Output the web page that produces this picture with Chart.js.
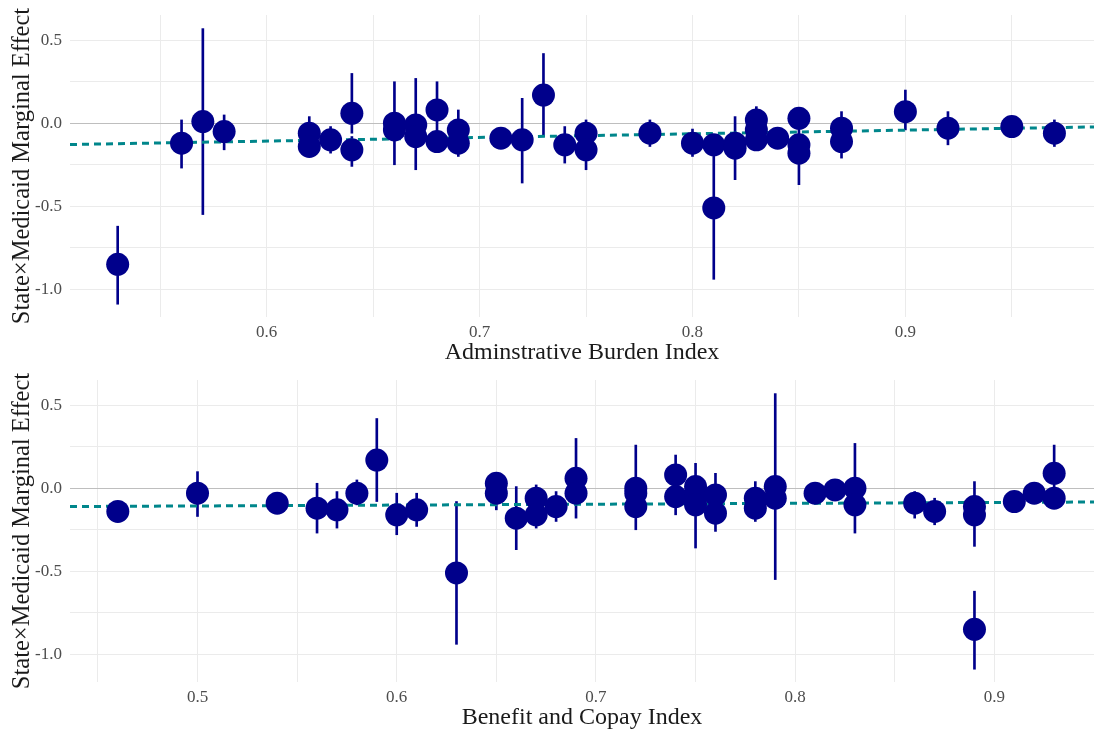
<!DOCTYPE html>
<html>
<head>
<meta charset="utf-8">
<script src="https://cdn.jsdelivr.net/npm/chart.js@4.4.1/dist/chart.umd.min.js"></script>
<style>
  html, body { margin: 0; padding: 0; background: #ffffff; }
  canvas { display: block; }
</style>
</head>
<body>
<canvas id="top" width="1094" height="365"></canvas>
<canvas id="bottom" width="1094" height="364"></canvas>
<script>
// ---------- Panel 1: Administrative Burden Index ----------
const burdenX      = [0.53, 0.56, 0.57, 0.58, 0.62, 0.62, 0.63, 0.64, 0.64, 0.66, 0.66, 0.67, 0.67, 0.68, 0.68, 0.69, 0.69, 0.71, 0.72, 0.73, 0.74, 0.75, 0.75, 0.78, 0.80, 0.81, 0.81, 0.82, 0.82, 0.83, 0.83, 0.83, 0.84, 0.85, 0.85, 0.85, 0.87, 0.87, 0.90, 0.92, 0.95, 0.97];
const burdenEffect = [-0.85, -0.12, 0.01, -0.05, -0.06, -0.14, -0.10, 0.06, -0.16, 0.00, -0.04, -0.01, -0.08, 0.08, -0.11, -0.04, -0.12, -0.09, -0.10, 0.17, -0.13, -0.06, -0.16, -0.06, -0.12, -0.13, -0.51, -0.12, -0.15, 0.02, -0.04, -0.10, -0.09, 0.03, -0.13, -0.18, -0.03, -0.11, 0.07, -0.03, -0.02, -0.06];
const burdenLow    = [-1.09, -0.27, -0.55, -0.16, -0.10, -0.18, -0.18, -0.06, -0.26, -0.25, -0.08, -0.28, -0.12, -0.05, -0.15, -0.20, -0.16, -0.12, -0.36, -0.08, -0.24, -0.10, -0.28, -0.14, -0.20, -0.17, -0.94, -0.16, -0.34, -0.02, -0.08, -0.14, -0.12, -0.01, -0.17, -0.37, -0.08, -0.21, -0.04, -0.13, -0.05, -0.14];
const burdenHigh   = [-0.62, 0.02, 0.57, 0.05, 0.04, -0.10, -0.02, 0.30, -0.08, 0.25, 0.00, 0.27, -0.04, 0.25, -0.07, 0.08, -0.08, -0.06, 0.15, 0.42, -0.02, 0.02, -0.10, 0.02, -0.035, -0.09, -0.08, -0.08, 0.04, 0.10, 0.00, -0.06, -0.06, 0.07, -0.09, 0.01, 0.07, -0.07, 0.20, 0.07, 0.01, 0.02];
const burdenFitX   = [0.5076, 0.9886];
const burdenFitY   = [-0.128, -0.022];
const burdenRange  = [0.5076, 0.9886];

// ---------- Panel 2: Benefit and Copay Index ----------
const copayX      = [0.46, 0.50, 0.54, 0.56, 0.57, 0.58, 0.59, 0.60, 0.61, 0.63, 0.65, 0.65, 0.66, 0.67, 0.67, 0.68, 0.69, 0.69, 0.72, 0.72, 0.72, 0.74, 0.74, 0.75, 0.75, 0.75, 0.76, 0.76, 0.78, 0.78, 0.79, 0.79, 0.81, 0.82, 0.83, 0.83, 0.86, 0.87, 0.89, 0.89, 0.89, 0.91, 0.92, 0.93, 0.93];
const copayEffect = [-0.14, -0.03, -0.09, -0.12, -0.13, -0.03, 0.17, -0.16, -0.13, -0.51, 0.03, -0.03, -0.18, -0.06, -0.16, -0.11, 0.06, -0.03, 0.00, -0.03, -0.11, 0.08, -0.05, 0.01, -0.04, -0.10, -0.04, -0.15, -0.06, -0.12, 0.01, -0.06, -0.03, -0.01, 0.00, -0.10, -0.09, -0.14, -0.11, -0.16, -0.85, -0.08, -0.03, 0.09, -0.06];
const copayLow    = [-0.17, -0.17, -0.12, -0.27, -0.24, -0.10, -0.08, -0.28, -0.23, -0.94, -0.01, -0.13, -0.37, -0.10, -0.24, -0.20, -0.06, -0.18, -0.25, -0.07, -0.15, -0.04, -0.16, -0.03, -0.08, -0.36, -0.08, -0.26, -0.10, -0.20, -0.55, -0.10, -0.06, -0.04, -0.27, -0.14, -0.18, -0.22, -0.15, -0.35, -1.09, -0.11, -0.06, -0.02, -0.10];
const copayHigh   = [-0.11, 0.10, -0.06, 0.03, -0.02, 0.05, 0.42, -0.03, -0.03, -0.08, 0.07, 0.02, 0.01, 0.02, -0.10, -0.02, 0.30, 0.01, 0.26, 0.01, -0.07, 0.20, 0.05, 0.05, 0.00, 0.15, 0.09, -0.10, 0.04, -0.08, 0.57, -0.02, 0.00, 0.02, 0.27, -0.06, -0.02, -0.06, -0.07, 0.04, -0.62, -0.05, 0.00, 0.26, -0.02];
const copayFitX   = [0.436, 0.950];
const copayFitY   = [-0.110, -0.083];
const copayRange  = [0.436, 0.950];

// ---------- Shared axis settings ----------
const effectRange   = [-1.167, 0.652];
const effectStep    = 0.25;
const indexStep     = 0.05;
const yTitle        = 'State\u00D7Medicaid Marginal Effect';
const xTitles       = ['Adminstrative Burden Index', 'Benefit and Copay Index'];

const SERIF = '"Liberation Serif", "DejaVu Serif", "Times New Roman", serif';
const NAVY = '#00008B';
const TEAL = '#00868B';

function isMultiple(v, step) {
  const r = v / step;
  return Math.abs(r - Math.round(r)) < 1e-6;
}

function makeChart(canvasId, xs, ys, lows, highs, fitX, fitY, xRange, xTitle, axisHeight, titlePad) {
  const pts = xs.map((x, i) => ({ x: x, y: ys[i] }));
  const bars = xs.map((x, i) => ({ x: x, y: [lows[i], highs[i]] }));
  const fit = fitX.map((x, i) => ({ x: x, y: fitY[i] }));

  return new Chart(document.getElementById(canvasId), {
    type: 'scatter',
    data: {
      datasets: [
        {
          type: 'scatter',
          data: pts,
          pointRadius: 11.5,
          pointHoverRadius: 11.5,
          pointBackgroundColor: NAVY,
          pointBorderWidth: 0,
          order: 0
        },
        {
          type: 'line',
          data: fit,
          borderColor: TEAL,
          borderWidth: 3,
          borderDash: [7, 5],
          pointRadius: 0,
          fill: false,
          order: 1
        },
        {
          type: 'bar',
          data: bars,
          backgroundColor: NAVY,
          borderWidth: 0,
          barThickness: 2,
          grouped: false,
          order: 2
        }
      ]
    },
    options: {
      responsive: false,
      animation: false,
      devicePixelRatio: 1,
      layout: { autoPadding: false, padding: { top: 15, right: 0, left: 0, bottom: 0 } },
      plugins: { legend: { display: false }, tooltip: { enabled: false } },
      scales: {
        x: {
          type: 'linear',
          min: xRange[0],
          max: xRange[1],
          offset: false,
          border: { display: false },
          grid: { color: '#EBEBEB', lineWidth: 1, drawTicks: false, offset: false },
          ticks: {
            stepSize: indexStep,
            includeBounds: false,
            maxTicksLimit: 100,
            autoSkip: false,
            maxRotation: 0,
            padding: 5,
            color: '#4D4D4D',
            font: { family: SERIF, size: 17 },
            callback: (v) => isMultiple(v, 0.1) ? v.toFixed(1) : ''
          },
          title: {
            display: true,
            text: xTitle,
            color: '#1A1A1A',
            font: { family: SERIF, size: 24, lineHeight: 1 },
            padding: { top: 0, bottom: titlePad }
          },
          afterFit: (scale) => {
            scale.height = axisHeight;
            scale.paddingLeft = 0;
            scale.paddingRight = 0;
          }
        },
        y: {
          type: 'linear',
          min: effectRange[0],
          max: effectRange[1],
          border: { display: false },
          grid: {
            drawTicks: false,
            lineWidth: 1,
            color: (ctx) => (ctx.tick && Math.abs(ctx.tick.value) < 1e-9) ? '#BEBEBE' : '#EBEBEB'
          },
          ticks: {
            stepSize: effectStep,
            includeBounds: false,
            maxTicksLimit: 100,
            autoSkip: false,
            padding: 8,
            color: '#4D4D4D',
            font: { family: SERIF, size: 17 },
            callback: (v) => {
              if (!isMultiple(v, 0.5)) return '';
              if (Math.abs(v) < 1e-9) return '0.0';
              return v.toFixed(1);
            }
          },
          title: {
            display: true,
            text: yTitle,
            color: '#1A1A1A',
            font: { family: SERIF, size: 24.5, lineHeight: 1 },
            padding: { top: 10, bottom: 0 }
          },
          afterFit: (scale) => {
            scale.width = 70;
            scale.paddingTop = 0;
            scale.paddingBottom = 0;
          }
        }
      }
    }
  });
}

makeChart('top', burdenX, burdenEffect, burdenLow, burdenHigh, burdenFitX, burdenFitY, burdenRange, xTitles[0], 48, 0);
makeChart('bottom', copayX, copayEffect, copayLow, copayHigh, copayFitX, copayFitY, copayRange, xTitles[1], 47, -1);
</script>
</body>
</html>
